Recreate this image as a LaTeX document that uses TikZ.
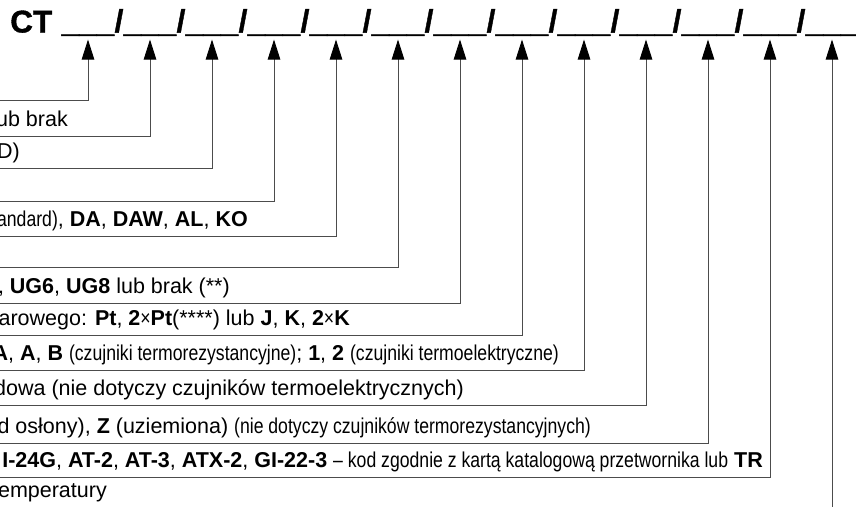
\documentclass[tikz,border=0pt]{standalone}
\usepackage{fontspec}
\setmainfont{Liberation Sans}
\newfontfamily\nar[FakeStretch=0.82]{Liberation Sans}
\newfontfamily\hdr[FakeBold=1.2]{Liberation Sans}
\usepackage{tikz}
\usetikzlibrary{arrows.meta, positioning}

\begin{document}
\begin{tikzpicture}[x=1pt, y=-1pt,
    lead/.style={draw=black!70, line width=0.9pt, -{Triangle[length=20pt, width=12.5pt, color=black]}, shorten >=3.5pt},
    blank/.style={font=\hdr\fontsize{31.5}{31.5}\selectfont\bfseries, inner sep=0pt, anchor=base},
    lbl/.style={font=\fontsize{21.5}{21.5}\selectfont, inner sep=0pt, anchor=base east}]
    \useasboundingbox (0,0) rectangle (856,506);
    \node [blank, anchor=base west] (CT) at (10,32.5) {CT};
    \foreach \i in {1,...,13}
        \node [blank] (b\i) at ({88+62*(\i-1)},32) {\_\_\_};
    \foreach \i in {1,...,12}
        \node [blank] (s\i) at ({119+62*(\i-1)},32) {/};
    \foreach \i/\y in {1/100, 2/136, 3/168, 4/201, 5/236, 6/267, 7/303, 8/335, 9/370, 10/405, 11/443, 12/477, 13/512} {
        \coordinate (l\i) at (0,\y);
        \draw [lead] (l\i) -| (b\i.south);
    }
    \node [lbl] (t2) at (68,126.5) {ub brak};
    \node [lbl] (t3) at (20,158.5) {D)};
    \node [lbl] (t5) at (248,226.5) {{\nar andard)}, \textbf{DA}, \textbf{DAW}, \textbf{AL}, \textbf{KO}};
    \node [lbl] (t7) at (230,293.5) {, \textbf{UG6}, \textbf{UG8} lub brak (**)};
    \node [lbl] (t8) at (350,325.5) {arowego: \textbf{Pt}, \textbf{2}{\nar ×}\textbf{Pt}(****) lub \textbf{J}, \textbf{K}, \textbf{2}{\nar ×}\textbf{K}};
    \node [lbl] (t9) at (559,360.5) {\textbf{A}, \textbf{A}, \textbf{B} {\nar (czujniki termorezystancyjne)}; \textbf{1}, \textbf{2} {\nar (czujniki termoelektryczne)}};
    \node [lbl] (t10) at (464,395.5) {dowa (nie dotyczy czujników termoelektrycznych)};
    \node [lbl] (t11) at (591,433.5) {d osłony), \textbf{Z} (uziemiona) {\nar (nie dotyczy czujników termorezystancyjnych)}};
    \node [lbl] (t12) at (763,467.5) {\textbf{I-24G}, \textbf{AT-2}, \textbf{AT-3}, \textbf{ATX-2}, \textbf{GI-22-3} {\nar – kod zgodnie z kartą katalogową przetwornika lub} \textbf{TR}};
    \node [lbl] (t13) at (107,497.5) {emperatury};
\end{tikzpicture}
\end{document}
